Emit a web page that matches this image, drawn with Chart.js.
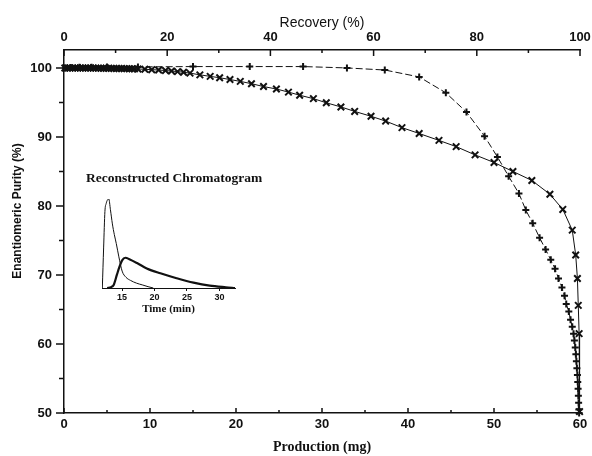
<!DOCTYPE html>
<html>
<head>
<meta charset="utf-8">
<script src="https://cdn.jsdelivr.net/npm/chart.js@4.4.1/dist/chart.umd.min.js"></script>
<style>
  body { margin: 0; background: #fff; }
  #wrap { position: relative; width: 592px; height: 456px; }
  #main { position: absolute; left: 0; top: 0; }
  #inset { position: absolute; left: 90px; top: 185px; }
</style>
</head>
<body>
<div id="wrap">
  <canvas id="main" width="592" height="456"></canvas>
  <canvas id="inset" width="160" height="135"></canvas>
</div>
<script>
// "+" series: production (mg) vs enantiomeric purity (%)
const plusMg = [0.2, 0.8, 1.8, 3.2, 5.0, 8.6, 15.0, 21.6, 27.8, 32.9,
  37.3, 41.3, 44.4, 46.8, 48.9, 50.4, 51.7, 52.9, 53.7, 54.5,
  55.3, 56.0, 56.6, 57.1, 57.5, 57.9, 58.2, 58.4, 58.7, 58.9,
  59.1, 59.25, 59.35, 59.45, 59.52, 59.58, 59.64, 59.7, 59.74, 59.78,
  59.81, 59.84, 59.87, 59.9];
const plusPurity = [100.0, 100.05, 100.1, 100.1, 100.15, 100.15, 100.2, 100.2, 100.2, 100.0,
  99.7, 98.7, 96.4, 93.6, 90.1, 87.1, 84.3, 81.8, 79.4, 77.5,
  75.4, 73.7, 72.2, 70.9, 69.5, 68.2, 67.0, 65.8, 64.7, 63.5,
  62.5, 61.5, 60.5, 59.5, 58.5, 57.5, 56.5, 55.5, 54.5, 53.5,
  52.5, 51.5, 50.5, 50.0];

// "x" series
const crossMg = [0.1, 0.4, 0.7, 1.0, 1.3, 1.6, 1.9, 2.2, 2.5, 2.8,
  3.1, 3.4, 3.7, 4.0, 4.3, 4.6, 4.9, 5.2, 5.5, 5.8,
  6.1, 6.4, 6.7, 7.0, 7.3, 7.6, 7.9, 8.2,
  8.6, 9.4, 10.2, 11.0, 11.8, 12.5, 13.2, 13.9, 14.65,
  15.8, 17.0, 18.1, 19.3, 20.5, 21.8, 23.2, 24.7, 26.1, 27.4,
  29.0, 30.5, 32.2, 33.8, 35.7, 37.4, 39.3, 41.3, 43.6, 45.6,
  47.8, 50.0, 52.2, 54.4, 56.5, 58.0, 59.1, 59.5, 59.7, 59.8,
  59.9, 59.95];
const crossPurity = [100, 100, 100, 100, 100, 100, 100, 100, 99.99, 99.99,
  99.98, 99.98, 99.97, 99.97, 99.96, 99.96, 99.95, 99.95, 99.94, 99.93,
  99.92, 99.92, 99.91, 99.9, 99.9, 99.89, 99.88, 99.87,
  99.85, 99.8, 99.75, 99.7, 99.62, 99.55, 99.47, 99.38, 99.25,
  99.0, 98.78, 98.58, 98.32, 98.05, 97.72, 97.3, 96.95, 96.5, 96.05,
  95.55, 94.95, 94.35, 93.7, 93.0, 92.3, 91.35, 90.5, 89.5, 88.6,
  87.4, 86.3, 85.0, 83.7, 81.7, 79.5, 76.5, 72.9, 69.5, 65.6,
  61.5, 50.2];

const productionTicks = [0, 10, 20, 30, 40, 50, 60];
const productionMinor = [5, 15, 25, 35, 45, 55];
const purityTicks = [50, 60, 70, 80, 90, 100];
const purityMinor = [55, 65, 75, 85, 95];
const recoveryTicks = [0, 20, 40, 60, 80, 100];
const recoveryMinor = [10, 30, 50, 70, 90];

// inset: reconstructed chromatogram (time in min, relative signal)
const peak1Time = [11.95, 12.15, 12.35, 12.55, 12.75, 12.95, 13.2, 13.5, 13.8, 14.1,
  14.5, 15.0, 15.6, 16.3, 17.2, 18.1, 19.0, 19.8];
const peak1Signal = [0, 0.45, 0.86, 0.95, 0.99, 1.0, 0.88, 0.72, 0.6, 0.5,
  0.35, 0.19, 0.12, 0.085, 0.055, 0.035, 0.015, 0];
const peak2Time = [12.7, 13.3, 13.7, 14.2, 14.6, 15.0, 15.5, 16.2, 17.3, 18.8,
  20.9, 23.4, 26.0, 28.5, 31.0, 32.4];
const peak2Signal = [0, 0.01, 0.035, 0.15, 0.24, 0.31, 0.34, 0.32, 0.28, 0.22,
  0.165, 0.11, 0.06, 0.026, 0.008, 0];
const timeTicks = [15, 20, 25, 30];

const ink = '#111';
const sans = '"Liberation Sans", Arial, sans-serif';
const serif = '"Liberation Serif", "Times New Roman", serif';

function points(xs, ys) {
  return xs.map((x, i) => ({ x: x, y: ys[i] }));
}

function fixedTicks(values) {
  return scale => { scale.ticks = values.map(v => ({ value: v })); };
}

// axis tick marks (major + minor) and free text
const axisMarks = {
  id: 'axisMarks',
  afterDraw(chart) {
    const ctx = chart.ctx;
    const { left, top, bottom } = chart.chartArea;
    const sx = chart.scales.x, sx2 = chart.scales.x2, sy = chart.scales.y;
    ctx.save();
    ctx.strokeStyle = ink;
    ctx.lineWidth = 1.5;
    ctx.beginPath();
    purityTicks.forEach(v => { const p = sy.getPixelForValue(v); ctx.moveTo(left - 8, p); ctx.lineTo(left, p); });
    purityMinor.forEach(v => { const p = sy.getPixelForValue(v); ctx.moveTo(left - 5, p); ctx.lineTo(left, p); });
    productionTicks.forEach(v => { const p = sx.getPixelForValue(v); ctx.moveTo(p, bottom); ctx.lineTo(p, bottom - 5); });
    productionMinor.forEach(v => { const p = sx.getPixelForValue(v); ctx.moveTo(p, bottom); ctx.lineTo(p, bottom - 3); });
    recoveryTicks.forEach(v => { const p = sx2.getPixelForValue(v); ctx.moveTo(p, top); ctx.lineTo(p, top + 6); });
    recoveryMinor.forEach(v => { const p = sx2.getPixelForValue(v); ctx.moveTo(p, top); ctx.lineTo(p, top + 3); });
    ctx.stroke();

    ctx.fillStyle = ink;
    ctx.textBaseline = 'middle';
    ctx.font = 'bold 13.5px ' + serif;
    ctx.textAlign = 'left';
    ctx.fillText('Reconstructed Chromatogram', 86, 179);

    ctx.translate(18, 211);
    ctx.rotate(-Math.PI / 2);
    ctx.textAlign = 'center';
    ctx.font = 'bold 12px ' + sans;
    ctx.fillText('Enantiomeric Purity (%)', 0, 0);
    ctx.restore();
  }
};

new Chart(document.getElementById('main'), {
  type: 'scatter',
  data: {
    datasets: [{
      data: points(plusMg, plusPurity),
      showLine: true,
      borderColor: ink,
      borderWidth: 1,
      borderDash: [7, 3],
      pointStyle: 'cross',
      pointRadius: 3.5,
      pointBorderWidth: 2,
      pointBorderColor: ink,
      clip: false
    }, {
      data: points(crossMg, crossPurity),
      showLine: true,
      borderColor: ink,
      borderWidth: 1,
      pointStyle: 'crossRot',
      pointRadius: 4.6,
      pointBorderWidth: 2,
      pointBorderColor: ink,
      clip: false
    }]
  },
  options: {
    responsive: false,
    animation: false,
    devicePixelRatio: 1,
    layout: { padding: { right: 12 } },
    plugins: { legend: { display: false }, tooltip: { enabled: false } },
    scales: {
      x: {
        type: 'linear', position: 'bottom', min: 0, max: 60,
        afterBuildTicks: fixedTicks(productionTicks),
        afterFit: s => { s.height = 43; s.paddingLeft = 0; s.paddingRight = 0; },
        grid: { display: false, drawTicks: false },
        border: { color: ink, width: 1.5 },
        ticks: { color: ink, font: { family: sans, size: 13, weight: 'bold' }, padding: 4, maxRotation: 0, autoSkip: false },
        title: { display: true, text: 'Production (mg)', color: ink, font: { family: serif, size: 14, weight: 'bold' }, padding: { top: 0, bottom: 0 } }
      },
      x2: {
        type: 'linear', position: 'top', min: 0, max: 100,
        afterBuildTicks: fixedTicks(recoveryTicks),
        afterFit: s => { s.height = 50; s.paddingLeft = 0; s.paddingRight = 0; },
        grid: { display: false, drawTicks: false },
        border: { color: ink, width: 1.5 },
        ticks: { color: ink, font: { family: sans, size: 13, weight: 'bold' }, padding: 5, maxRotation: 0, autoSkip: false },
        title: { display: true, text: 'Recovery (%)', color: ink, font: { family: sans, size: 14 }, padding: { top: 15, bottom: 0 } }
      },
      y: {
        type: 'linear', position: 'left', min: 50, max: 102.6,
        afterBuildTicks: fixedTicks(purityTicks),
        afterFit: s => { s.width = 64; s.paddingTop = 0; s.paddingBottom = 0; },
        grid: { display: false, drawTicks: false },
        border: { color: ink, width: 1.5 },
        ticks: { color: ink, font: { family: sans, size: 13, weight: 'bold' }, padding: 12 }
      }
    }
  },
  plugins: [axisMarks]
});

new Chart(document.getElementById('inset'), {
  type: 'scatter',
  data: {
    datasets: [{
      data: points(peak1Time, peak1Signal),
      showLine: true,
      borderColor: ink,
      borderWidth: 1,
      pointRadius: 0,
      cubicInterpolationMode: 'monotone'
    }, {
      data: points(peak2Time, peak2Signal),
      showLine: true,
      borderColor: ink,
      borderWidth: 2.2,
      pointRadius: 0,
      cubicInterpolationMode: 'monotone'
    }]
  },
  options: {
    responsive: false,
    animation: false,
    devicePixelRatio: 1,
    layout: { padding: { left: 12, right: 15, top: 14 } },
    plugins: { legend: { display: false }, tooltip: { enabled: false } },
    scales: {
      x: {
        type: 'linear', min: 11.9, max: 32.4,
        afterBuildTicks: fixedTicks(timeTicks),
        afterFit: s => { s.height = 32; s.paddingLeft = 0; s.paddingRight = 0; },
        grid: { display: true, drawOnChartArea: false, tickLength: 3, color: ink, lineWidth: 1 },
        border: { color: ink, width: 1 },
        ticks: { color: ink, font: { family: sans, size: 9, weight: 'bold' }, padding: 1, maxRotation: 0, autoSkip: false },
        title: { display: true, text: 'Time (min)', color: ink, font: { family: serif, size: 11, weight: 'bold' }, padding: { top: 0, bottom: 4 } }
      },
      y: { display: false, min: 0, max: 1 }
    }
  }
});
</script>
</body>
</html>
